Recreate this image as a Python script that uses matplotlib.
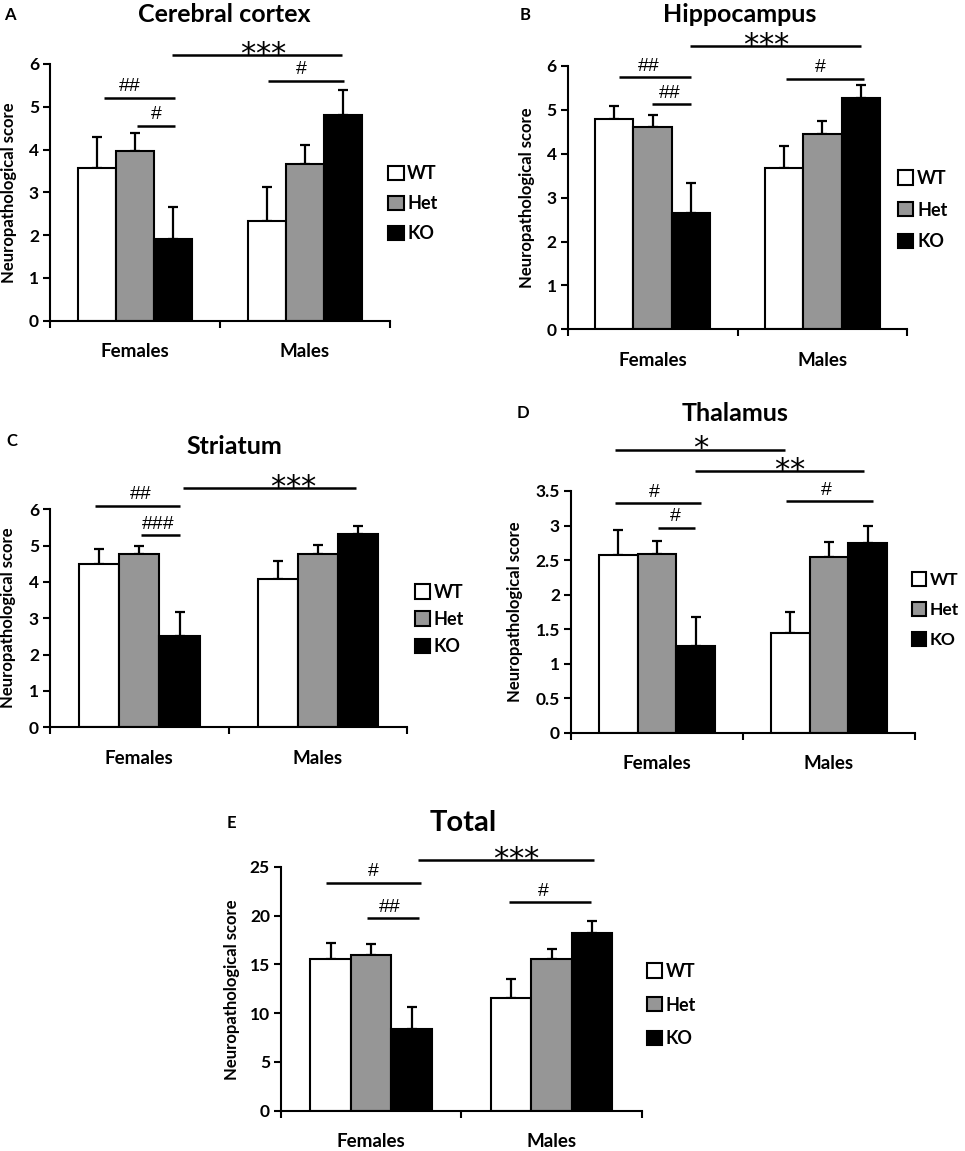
import matplotlib
matplotlib.use('Agg')
import matplotlib.pyplot as plt
import numpy as np

plt.rcParams['font.family'] = ['Lato', 'DejaVu Sans']
plt.rcParams['font.weight'] = 'bold'

groups = ['Females', 'Males']
genotypes = ['WT', 'Het', 'KO']
colors = ['#ffffff', '#969696', '#000000']

# Panel A: Cerebral cortex
cortex_wt = [3.57, 2.34]
cortex_het = [3.96, 3.67]
cortex_ko = [1.90, 4.81]
cortex_wt_err = [0.73, 0.79]
cortex_het_err = [0.43, 0.43]
cortex_ko_err = [0.75, 0.58]
cortex_sig = [(-0.181, 0.238, 5.21, '##', -0.03), (0.012, 0.238, 4.56, '#', 0.124),
              (0.218, 1.217, 6.21, '***', 0.75), (0.78, 1.23, 5.61, '#', 0.976)]

# Panel B: Hippocampus
hippo_wt = [4.79, 3.67]
hippo_het = [4.62, 4.46]
hippo_ko = [2.64, 5.28]
hippo_wt_err = [0.30, 0.51]
hippo_het_err = [0.26, 0.29]
hippo_ko_err = [0.70, 0.28]
hippo_sig = [(-0.197, 0.226, 5.74, '##', -0.025), (-0.005, 0.226, 5.13, '##', 0.104),
             (0.218, 1.225, 6.46, '***', 0.666), (0.785, 1.245, 5.71, '#', 0.986)]

# Panel C: Striatum
stri_wt = [4.49, 4.09]
stri_het = [4.77, 4.78]
stri_ko = [2.51, 5.33]
stri_wt_err = [0.41, 0.50]
stri_het_err = [0.23, 0.24]
stri_ko_err = [0.65, 0.22]
stri_sig = [(-0.246, 0.229, 6.10, '##', 0.006), (0.007, 0.229, 5.28, '###', 0.108),
            (0.244, 1.212, 6.58, '***', 0.858)]

# Panel D: Thalamus
thal_wt = [2.57, 1.45]
thal_het = [2.59, 2.55]
thal_ko = [1.26, 2.74]
thal_wt_err = [0.37, 0.30]
thal_het_err = [0.19, 0.21]
thal_ko_err = [0.41, 0.26]
thal_sig = [(-0.242, 0.742, 4.10, '*', 0.252), (0.223, 1.206, 3.79, '**', 0.769),
            (-0.242, 0.256, 3.32, '#', -0.013), (0.006, 0.219, 2.97, '#', 0.107),
            (0.749, 1.253, 3.35, '#', 0.984)]

# Panel E: Total
total_wt = [15.5, 11.58]
total_het = [15.95, 15.5]
total_ko = [8.34, 18.17]
total_wt_err = [1.7, 1.92]
total_het_err = [1.1, 1.1]
total_ko_err = [2.32, 1.3]
total_sig = [(-0.25, 0.274, 23.36, '#', 0.014), (-0.023, 0.265, 19.71, '##', 0.103),
             (0.261, 1.234, 25.69, '***', 0.80), (0.763, 1.219, 21.38, '#', 0.953)]

W, H = 965, 1151
fig = plt.figure(figsize=(W / 100, H / 100), dpi=100)


def rect(l, r, t, b):
    return [l / W, 1 - b / H, (r - l) / W, (b - t) / H]


def ftext(x, y, s, **kw):
    fig.text(x / W, 1 - y / H, s, ha='center', va='center', **kw)


def panel(r, means, errs, ymax, ystep, sigs, leg_anchor, leg_sp, leg_fs,
          letter, lpos, title, tpos, tsize, ylpos):
    ax = fig.add_axes(rect(*r))
    x = np.arange(len(groups))
    w = 0.225
    for i, (m, e, c, lab) in enumerate(zip(means, errs, colors, genotypes)):
        pos = x + (i - 1) * w
        ax.bar(pos, m, w, color=c, edgecolor='black', linewidth=1.5, label=lab, zorder=2)
        ax.errorbar(pos, m, yerr=[np.zeros(len(m)), e], fmt='none', ecolor='black',
                    elinewidth=1.6, capsize=3.5, capthick=1.6, zorder=1)
    ax.set_xlim(-0.5, 1.5)
    ax.set_ylim(0, ymax)
    for s in ['top', 'right']:
        ax.spines[s].set_visible(False)
    for s in ['left', 'bottom']:
        ax.spines[s].set_linewidth(1.5)
    ax.set_xticks(x)
    ax.set_xticklabels(groups, fontsize=13.5, fontweight='bold')
    ax.set_xticks([-0.5, 0.5, 1.5], minor=True)
    ax.tick_params(axis='x', which='major', length=0, pad=16)
    ax.tick_params(axis='x', which='minor', length=5, width=1.5, direction='out')
    yt = np.arange(0, ymax + ystep / 2, ystep)
    ax.set_yticks(yt)
    ax.set_yticklabels(['%g' % v for v in yt], fontsize=12.5, fontweight='bold')
    ax.tick_params(axis='y', length=5, width=1.5, direction='out', pad=3)
    for (x0, x1, y, lab, tx) in sigs:
        ax.plot([x0, x1], [y, y], color='black', lw=1.8, clip_on=False, solid_capstyle='butt')
        if '*' in lab:
            n = len(lab)
            for k in range(n):
                ax.annotate('*', (tx, y), xytext=((k - (n - 1) / 2) * 10.8, -5.6),
                            textcoords='offset points', ha='center', va='baseline',
                            fontsize=22, fontweight='normal', family='DejaVu Sans',
                            annotation_clip=False)
        else:
            ax.annotate(lab, (tx, y), xytext=(0, 4.7), textcoords='offset points',
                        ha='center', va='baseline', fontsize=14, fontweight='normal',
                        family='Liberation Sans', annotation_clip=False)
    ax.legend(loc='center left', bbox_to_anchor=leg_anchor, frameon=False,
              handlelength=0.85, handleheight=0.85, handletextpad=0.2,
              labelspacing=leg_sp, borderaxespad=0, borderpad=0,
              prop={'size': leg_fs, 'weight': 'bold'})
    ftext(*lpos, letter, fontsize=12, fontweight='bold')
    ftext(*tpos, title, fontsize=tsize, fontweight='bold')
    ftext(*ylpos, 'Neuropathological score', fontsize=12, fontweight='bold', rotation=90)
    return ax


panel((50, 390, 64, 320.7),
      [cortex_wt, cortex_het, cortex_ko], [cortex_wt_err, cortex_het_err, cortex_ko_err],
      6, 1, cortex_sig, (0.995, 0.455), 0.72, 13,
      'A', (10, 15), 'Cerebral cortex', (224, 15), 18, (9, 193))

panel((567.7, 907.3, 66, 329.3),
      [hippo_wt, hippo_het, hippo_ko], [hippo_wt_err, hippo_het_err, hippo_ko_err],
      6, 1, hippo_sig, (0.973, 0.453), 0.82, 13,
      'B', (525, 15), 'Hippocampus', (740, 15), 18, (527, 198))

panel((50, 407.3, 509.3, 727.3),
      [stri_wt, stri_het, stri_ko], [stri_wt_err, stri_het_err, stri_ko_err],
      6, 1, stri_sig, (1.021, 0.495), 0.56, 13,
      'C', (11.7, 440.7), 'Striatum', (234.3, 446.7), 18, (8.3, 618))

panel((571, 915, 491, 732.7),
      [thal_wt, thal_het, thal_ko], [thal_wt_err, thal_het_err, thal_ko_err],
      3.5, 0.5, thal_sig, (0.99, 0.508), 0.8, 12.5,
      'D', (523.3, 413.3), 'Thalamus', (735, 413.3), 18, (515, 611.7))

panel((281, 641.7, 866.7, 1110.7),
      [total_wt, total_het, total_ko], [total_wt_err, total_het_err, total_ko_err],
      25, 5, total_sig, (1.014, 0.433), 0.92, 13,
      'E', (231.7, 823.3), 'Total', (463.3, 823.3), 21, (231.7, 990))

fig.savefig('out.png', dpi=100, facecolor='white')
